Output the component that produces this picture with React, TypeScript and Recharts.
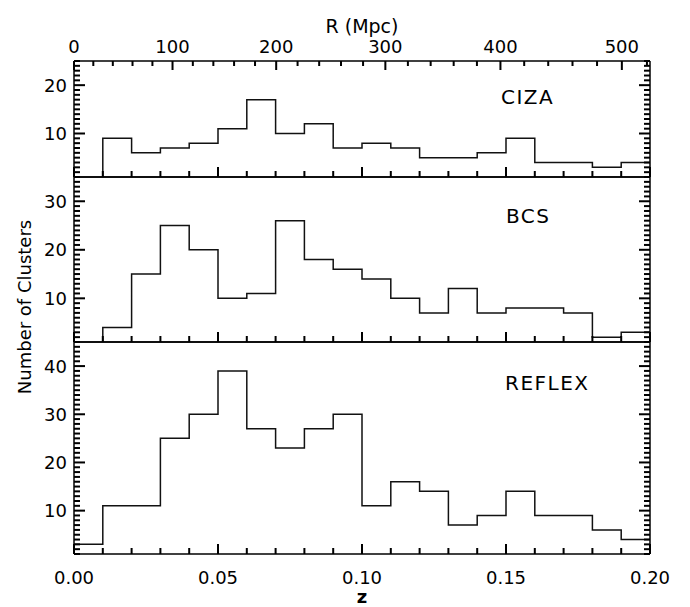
import React from 'react';
import { LineChart, Line, XAxis, YAxis } from 'recharts';

// bin left edges in z (width 0.01), last edge 0.20
const Z_BINS = [0, 0.01, 0.02, 0.03, 0.04, 0.05, 0.06, 0.07, 0.08, 0.09, 0.1, 0.11, 0.12, 0.13, 0.14, 0.15, 0.16, 0.17, 0.18, 0.19];
const Z_END = 0.2;

const CIZA = [0, 9, 6, 7, 8, 11, 17, 10, 12, 7, 8, 7, 5, 5, 6, 9, 4, 4, 3, 4];
const BCS = [0, 4, 15, 25, 20, 10, 11, 26, 18, 16, 14, 10, 7, 12, 7, 8, 8, 7, 2, 3];
const REFLEX = [3, 11, 11, 25, 30, 39, 27, 23, 27, 30, 11, 16, 14, 7, 9, 14, 9, 9, 6, 4];

const Z_TICKS = [0, 0.01, 0.02, 0.03, 0.04, 0.05, 0.06, 0.07, 0.08, 0.09, 0.1, 0.11, 0.12, 0.13, 0.14, 0.15, 0.16, 0.17, 0.18, 0.19, 0.2];
const R_TICKS = [0, 20, 40, 60, 80, 100, 120, 140, 160, 180, 200, 220, 240, 260, 280, 300, 320, 340, 360, 380, 400, 420, 440, 460, 480, 500, 520];

const FONT = '"DejaVu Sans", sans-serif';
const INK = '#000';
const W = 690;
const H = 607;
const LEFT = 74;
const RIGHT = 40;
const T = 2; // tick thickness

// comoving distance (Einstein-de Sitter, H0=100): R = 2c/H0 (1 - 1/sqrt(1+z))
const C2 = 5996;
const zOfR = (r: number) => 1 / Math.pow(1 - r / C2, 2) - 1;
const rOfZ = (z: number) => C2 * (1 - 1 / Math.sqrt(1 + z));

const range = (a: number, b: number) => Array.from({ length: b - a + 1 }, (_, i) => a + i);

const rows = (vals: number[]) => [
  ...Z_BINS.map((z, i) => ({ z, n: vals[i] })),
  { z: Z_END, n: vals[vals.length - 1] },
];

const isMul = (v: number, step: number) => Math.abs(v / step - Math.round(v / step)) < 1e-6;

const bottomTick = (label: boolean) => (p: any) => {
  const v = p.payload.value;
  const major = isMul(v, 0.05);
  const len = major ? 10 : 6;
  const x = Number(p.x);
  const y = Number(p.y);
  return (
    <g>
      <rect x={x - T / 2} y={y - len} width={T} height={len} fill={INK} />
      {label && major && (
        <text x={x} y={y + 30} textAnchor="middle" fontSize={18} fontFamily={FONT} fill={INK}>
          {v.toFixed(2)}
        </text>
      )}
    </g>
  );
};

const topTick = (show: boolean) => (p: any) => {
  if (!show) return <g />;
  const r = Math.round(rOfZ(p.payload.value) / 20) * 20;
  const major = r % 100 === 0;
  const len = major ? 9 : 5;
  const x = Number(p.x);
  const y = Number(p.y);
  return (
    <g>
      <rect x={x - T / 2} y={y} width={T} height={len} fill={INK} />
      {major && (
        <text x={x} y={y - 8} textAnchor="middle" fontSize={18} fontFamily={FONT} fill={INK}>
          {r}
        </text>
      )}
    </g>
  );
};

const leftTick = (p: any) => {
  const v = p.payload.value;
  const major = v % 10 === 0;
  const len = major ? 11 : 6;
  const x = Number(p.x);
  const y = Number(p.y);
  return (
    <g>
      <rect x={x} y={y - T / 2} width={len} height={T} fill={INK} />
      {major && (
        <text x={x - 7} y={y} dy="0.36em" textAnchor="end" fontSize={18} fontFamily={FONT} fill={INK}>
          {v}
        </text>
      )}
    </g>
  );
};

const rightTick = (p: any) => {
  const major = p.payload.value % 10 === 0;
  const len = major ? 11 : 6;
  const x = Number(p.x);
  const y = Number(p.y);
  return (
    <g>
      <rect x={x - len} y={y - T / 2} width={len} height={T} fill={INK} />
    </g>
  );
};

const axisLine = { stroke: INK, strokeWidth: 1.5 };

type PanelProps = {
  vals: number[];
  yMax: number;
  top: number;
  bottom: number;
  showTop?: boolean;
  showBottomLabels?: boolean;
};

// every panel uses the same axis set-up; only the first shows the R (Mpc) axis
function Panel({ vals, yMax, top, bottom, showTop, showBottomLabels }: PanelProps) {
  const yTicks = range(1, yMax);
  return (
    <div style={{ position: 'absolute', left: 0, top: 0 }}>
      <LineChart width={W} height={H} data={rows(vals)} margin={{ top: top - 1, bottom: H - bottom - 1, left: 0, right: 0 }}>
        <XAxis xAxisId="b" dataKey="z" type="number" domain={[0, Z_END]} allowDataOverflow ticks={Z_TICKS}
          interval={0} height={1} tickSize={0} tickMargin={0} tickLine={false} axisLine={axisLine}
          tick={bottomTick(!!showBottomLabels)} />
        <XAxis xAxisId="t" dataKey="z" orientation="top" type="number" domain={[0, Z_END]} allowDataOverflow
          ticks={R_TICKS.map(zOfR)} interval={0} height={1} tickSize={0} tickMargin={0} tickLine={false}
          axisLine={axisLine} tick={topTick(!!showTop)} />
        <YAxis yAxisId="l" type="number" domain={[1, yMax]} allowDataOverflow ticks={yTicks} interval={0}
          width={LEFT} tickSize={0} tickMargin={0} tickLine={false} axisLine={axisLine} tick={leftTick} />
        <YAxis yAxisId="r" orientation="right" type="number" domain={[1, yMax]} allowDataOverflow ticks={yTicks}
          interval={0} width={RIGHT} tickSize={0} tickMargin={0} tickLine={false} axisLine={axisLine} tick={rightTick} />
        <Line xAxisId="b" yAxisId="l" dataKey="n" type="stepAfter" stroke="#111" strokeWidth={1.5}
          dot={false} activeDot={false} isAnimationActive={false} />
        {/* invisible twin so the top / right axes get a scale */}
        <Line xAxisId="t" yAxisId="r" dataKey="n" type="stepAfter" stroke={INK} strokeOpacity={0}
          dot={false} activeDot={false} isAnimationActive={false} />
      </LineChart>
    </div>
  );
}

export default function App() {
  const txt = { fontFamily: FONT, fill: INK } as const;
  return (
    <div style={{ position: 'absolute', left: 0, top: 0, width: W, height: H, background: '#fff' }}>
      <Panel vals={CIZA} yMax={25} top={61} bottom={177} showTop />
      <Panel vals={BCS} yMax={35} top={177} bottom={342} />
      <Panel vals={REFLEX} yMax={45} top={342} bottom={554} showBottomLabels />
      <svg width={W} height={H} style={{ position: 'absolute', left: 0, top: 0, pointerEvents: 'none' }}>
        <text x={362} y={33} textAnchor="middle" fontSize={19} {...txt}>R (Mpc)</text>
        <text x={362} y={603} textAnchor="middle" fontSize={18} fontWeight="bold" {...txt}>z</text>
        <text transform="translate(31,307) rotate(-90)" textAnchor="middle" fontSize={18} {...txt}>Number of Clusters</text>
        <text x={501} y={104} fontSize={20} letterSpacing={1.5} {...txt}>CIZA</text>
        <text x={506} y={223} fontSize={20} letterSpacing={1.5} {...txt}>BCS</text>
        <text x={505} y={390} fontSize={20} letterSpacing={1.5} {...txt}>REFLEX</text>
      </svg>
    </div>
  );
}
